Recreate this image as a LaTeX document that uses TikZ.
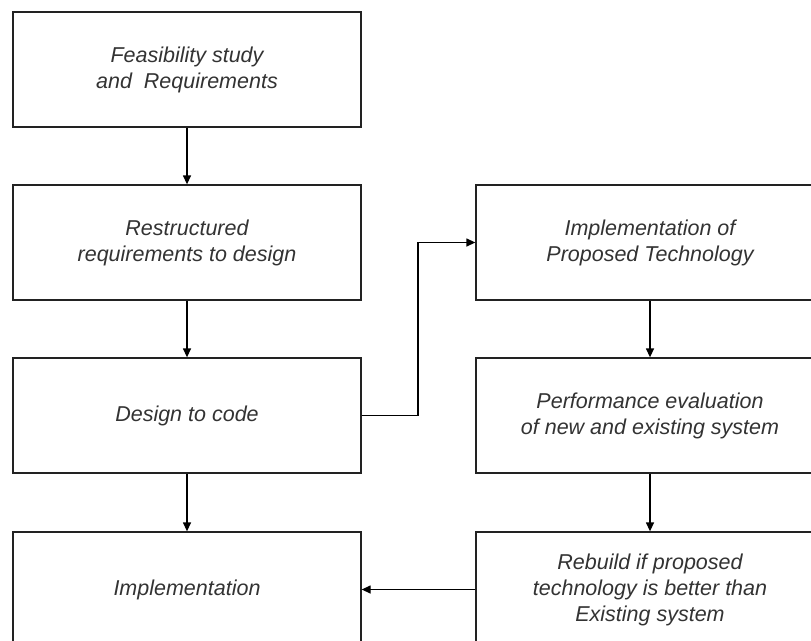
\documentclass[tikz,border=0pt]{standalone}
\usepackage{fontspec}
\setmainfont{Liberation Sans}
\usetikzlibrary{arrows.meta}
\definecolor{txt}{HTML}{333333}
\definecolor{edge}{HTML}{222222}
\tikzset{
  box/.style={draw=edge, line width=1.3pt, fill=white, minimum width=348pt, minimum height=115pt,
    inner sep=0pt, align=center, text=txt, font=\fontsize{21.5}{26}\selectfont\itshape},
  conn/.style={draw=black, line width=1.3pt, -{Triangle[length=9pt,width=8pt]}}
}
\begin{document}
\begin{tikzpicture}[x=1pt,y=-1pt]
\useasboundingbox (0,0) rectangle (811,640);
\node[box] (feas) at (187,69.5) {Feasibility study\\and\ \ Requirements};
\node[box] (restr) at (187,242.5) {Restructured\\requirements to design};
\node[box] (code) at (187,415.5) {Design to code};
\node[box] (impl) at (187,589.5) {Implementation};
\node[box] (prop) at (650,242.5) {Implementation of\\Proposed Technology};
\node[box] (perf) at (650,415.5) {Performance evaluation\\of new and existing system};
\node[box] (rebuild) at (650,589.5) {Rebuild if proposed\\technology is better than\\Existing system};
\draw[conn] (feas) -- (restr);
\draw[conn] (restr) -- (code);
\draw[conn] (code) -- (impl);
\coordinate (bend) at (418,415.5);
\draw[conn] (code.east) -- (bend) |- (prop.west);
\draw[conn] (prop) -- (perf);
\draw[conn] (perf) -- (rebuild);
\draw[conn] (rebuild.west) -- (impl.east);
\end{tikzpicture}
\end{document}
